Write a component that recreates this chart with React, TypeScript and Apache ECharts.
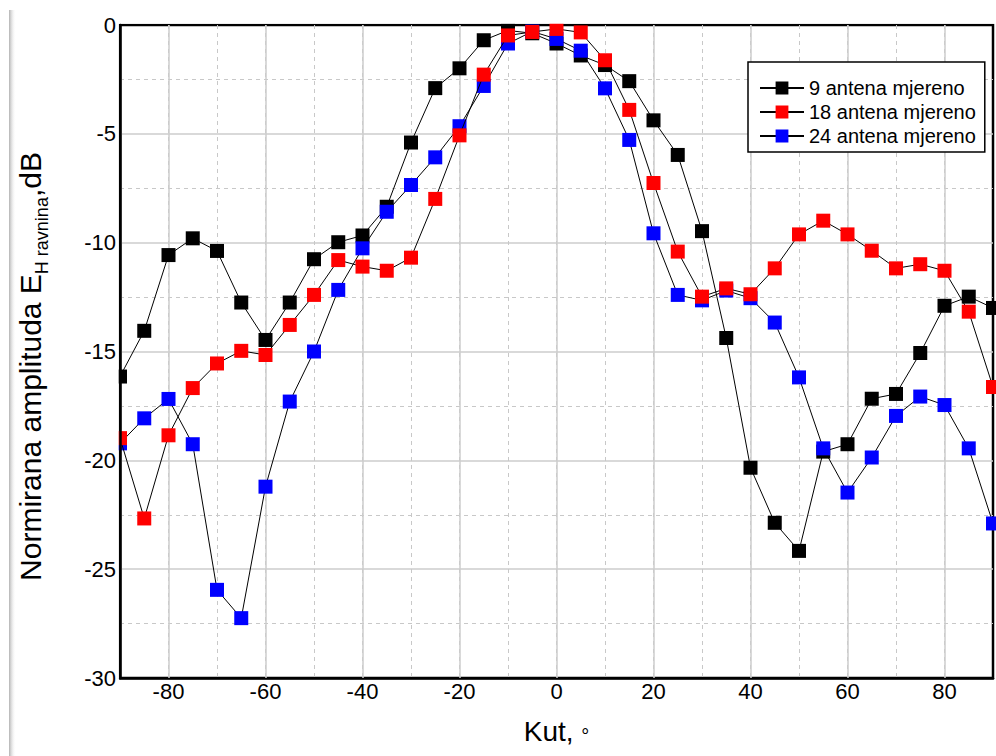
import React, { useEffect, useRef } from "react";
import * as echarts from "echarts";

const ANGLES = [
  -90, -85, -80, -75, -70, -65, -60, -55, -50, -45, -40, -35, -30, -25, -20, -15, -10, -5,
  0, 5, 10, 15, 20, 25, 30, 35, 40, 45, 50, 55, 60, 65, 70, 75, 80, 85, 90,
];

const ANTENA_9 = [
  -16.15, -14.05, -10.57, -9.8, -10.38, -12.75, -14.47, -12.75, -10.76, -9.98, -9.67, -8.35,
  -5.4, -2.9, -1.99, -0.7, -0.25, -0.38, -0.85, -1.4, -1.84, -2.58, -4.38, -5.97, -9.47,
  -14.38, -20.34, -22.87, -24.16, -19.6, -19.26, -17.17, -16.95, -15.07, -12.9, -12.48, -13.0,
];

const ANTENA_18 = [
  -18.98, -22.67, -18.85, -16.68, -15.55, -14.97, -15.16, -13.78, -12.4, -10.8, -11.1, -11.29,
  -10.69, -7.99, -5.07, -2.28, -0.48, -0.32, -0.18, -0.34, -1.62, -3.9, -7.26, -10.41, -12.48,
  -12.1, -12.37, -11.18, -9.62, -8.99, -9.62, -10.37, -11.18, -10.99, -11.29, -13.17, -16.63,
];

const ANTENA_24 = [
  -19.22, -18.07, -17.18, -19.26, -25.95, -27.25, -21.21, -17.3, -15.0, -12.17, -10.26, -8.58,
  -7.35, -6.08, -4.65, -2.8, -0.85, -0.3, -0.64, -1.18, -2.91, -5.28, -9.57, -12.4, -12.65,
  -12.2, -12.55, -13.67, -16.19, -19.45, -21.48, -19.87, -17.96, -17.07, -17.46, -19.45, -22.9,
];

const SERIES_NAMES = ["9 antena mjereno", "18 antena mjereno", "24 antena mjereno"];
const SERIES_COLORS = ["#000000", "#ff0000", "#0000ff"];
const X_MAJOR_TICKS = [-80, -60, -40, -20, 0, 20, 40, 60, 80];

const FONT = "Arial, 'Liberation Sans', sans-serif";

export default function App() {
  const ref = useRef<HTMLDivElement>(null);

  useEffect(() => {
    const chart = echarts.init(ref.current as HTMLDivElement, null, { renderer: "svg" });

    const values = [ANTENA_9, ANTENA_18, ANTENA_24];
    const zs = [2, 4, 3];
    const series: any[] = SERIES_NAMES.map((name, k) => ({
      name,
      type: "line",
      data: ANGLES.map((a, i) => [a, values[k][i]]),
      symbol: "rect",
      symbolSize: 14,
      showSymbol: true,
      showAllSymbol: true,
      lineStyle: { color: "#000", width: 1 },
      itemStyle: { color: SERIES_COLORS[k], borderWidth: 0 },
      z: zs[k],
      clip: true,
      emphasis: { disabled: true },
    }));

    series.push({
      name: "grid-major",
      type: "line",
      data: [],
      silent: true,
      markLine: {
        silent: true,
        symbol: "none",
        z: 1,
        label: { show: false },
        lineStyle: { color: "#cccccc", width: 1.5, type: "solid" },
        data: X_MAJOR_TICKS.map((v) => ({ xAxis: v })),
        emphasis: { disabled: true },
      },
    });

    chart.setOption({
      animation: false,
      backgroundColor: "#ffffff",
      textStyle: { fontFamily: FONT },
      grid: {
        left: 120,
        top: 25,
        right: -4,
        bottom: 78,
        show: true,
        borderColor: "#000",
        borderWidth: 2.5,
        backgroundColor: "transparent",
      },
      legend: {
        data: SERIES_NAMES,
        orient: "vertical",
        left: 748,
        top: 62,
        itemWidth: 44,
        itemHeight: 16,
        itemGap: 4,
        padding: [16, 9, 6, 11],
        borderColor: "#000",
        borderWidth: 1.5,
        backgroundColor: "#fff",
        textStyle: { fontFamily: FONT, fontSize: 20, color: "#000" },
        selectedMode: false,
        z: 12,
      },
      xAxis: {
        type: "value",
        min: -90,
        max: 90,
        interval: 10,
        name: "{a|Kut, }{b|°}",
        nameLocation: "middle",
        nameGap: 38,
        nameTextStyle: {
          rich: {
            a: { fontFamily: FONT, fontSize: 28, color: "#000", lineHeight: 30 },
            b: { fontFamily: FONT, fontSize: 20, color: "#000", lineHeight: 20, verticalAlign: "bottom" },
          },
        },
        axisLine: { show: true, onZero: false, lineStyle: { color: "#000", width: 2.5 } },
        axisTick: { show: false },
        axisLabel: {
          fontFamily: FONT,
          fontSize: 22,
          color: "#000",
          margin: 2,
          formatter: (v: number) => (v % 20 === 0 ? String(v) : ""),
        },
        splitLine: {
          show: true,
          showMinLine: false,
          showMaxLine: false,
          lineStyle: { color: "#c8c8c8", width: 1, type: [4, 4] },
        },
      },
      yAxis: [
        {
          type: "value",
          min: -30,
          max: 0,
          interval: 5,
          z: 0,
          axisLine: { show: false, onZero: false },
          axisTick: { show: false },
          minorTick: { show: false, splitNumber: 2 },
          axisLabel: { show: false },
          splitLine: {
            show: true,
            showMinLine: false,
            showMaxLine: false,
            lineStyle: { color: "#cccccc", width: 1.5, type: "solid" },
          },
          minorSplitLine: {
            show: true,
            lineStyle: { color: "#c8c8c8", width: 1, type: [4, 4] },
          },
        },
        {
          type: "value",
          min: -30,
          max: 0,
          interval: 5,
          position: "left",
          z: 10,
          name: "{a|Normirana amplituda E}{s|H ravnina}{a|,dB}",
          nameLocation: "middle",
          nameRotate: 90,
          nameGap: 73,
          nameTextStyle: {
            padding: [0, 30, 0, 0],
            rich: {
              a: { fontFamily: FONT, fontSize: 30, color: "#000", lineHeight: 32, verticalAlign: "top" },
              s: {
                fontFamily: FONT,
                fontSize: 18,
                color: "#000",
                lineHeight: 18,
                verticalAlign: "top",
                padding: [18, 0, 0, 0],
              },
            },
          },
          axisLine: { show: true, onZero: false, lineStyle: { color: "#000", width: 2.5 } },
          axisTick: { show: false },
          axisLabel: { fontFamily: FONT, fontSize: 22, color: "#000", margin: 4 },
          splitLine: { show: false },
        },
      ],
      graphic: [
        {
          type: "rect",
          left: 0,
          top: 0,
          shape: { width: 118.7, height: 756 },
          style: { fill: "#ffffff" },
          silent: true,
          z: 8,
        },
        {
          type: "rect",
          left: 0,
          top: 0,
          shape: { width: 996, height: 23.7 },
          style: { fill: "#ffffff" },
          silent: true,
          z: 8,
        },
        {
          type: "rect",
          left: 9,
          top: 10,
          shape: { width: 7, height: 746 },
          style: {
            fill: new echarts.graphic.LinearGradient(0, 0, 1, 0, [
              { offset: 0, color: "rgba(170,170,170,0.9)" },
              { offset: 1, color: "rgba(255,255,255,0)" },
            ]),
          },
          silent: true,
          z: 9,
        },
      ],
      series,
    });

    return () => {
      chart.dispose();
    };
  }, []);

  return (
    <div
      ref={ref}
      style={{ position: "fixed", left: 0, top: 0, width: 996, height: 756 }}
    />
  );
}
